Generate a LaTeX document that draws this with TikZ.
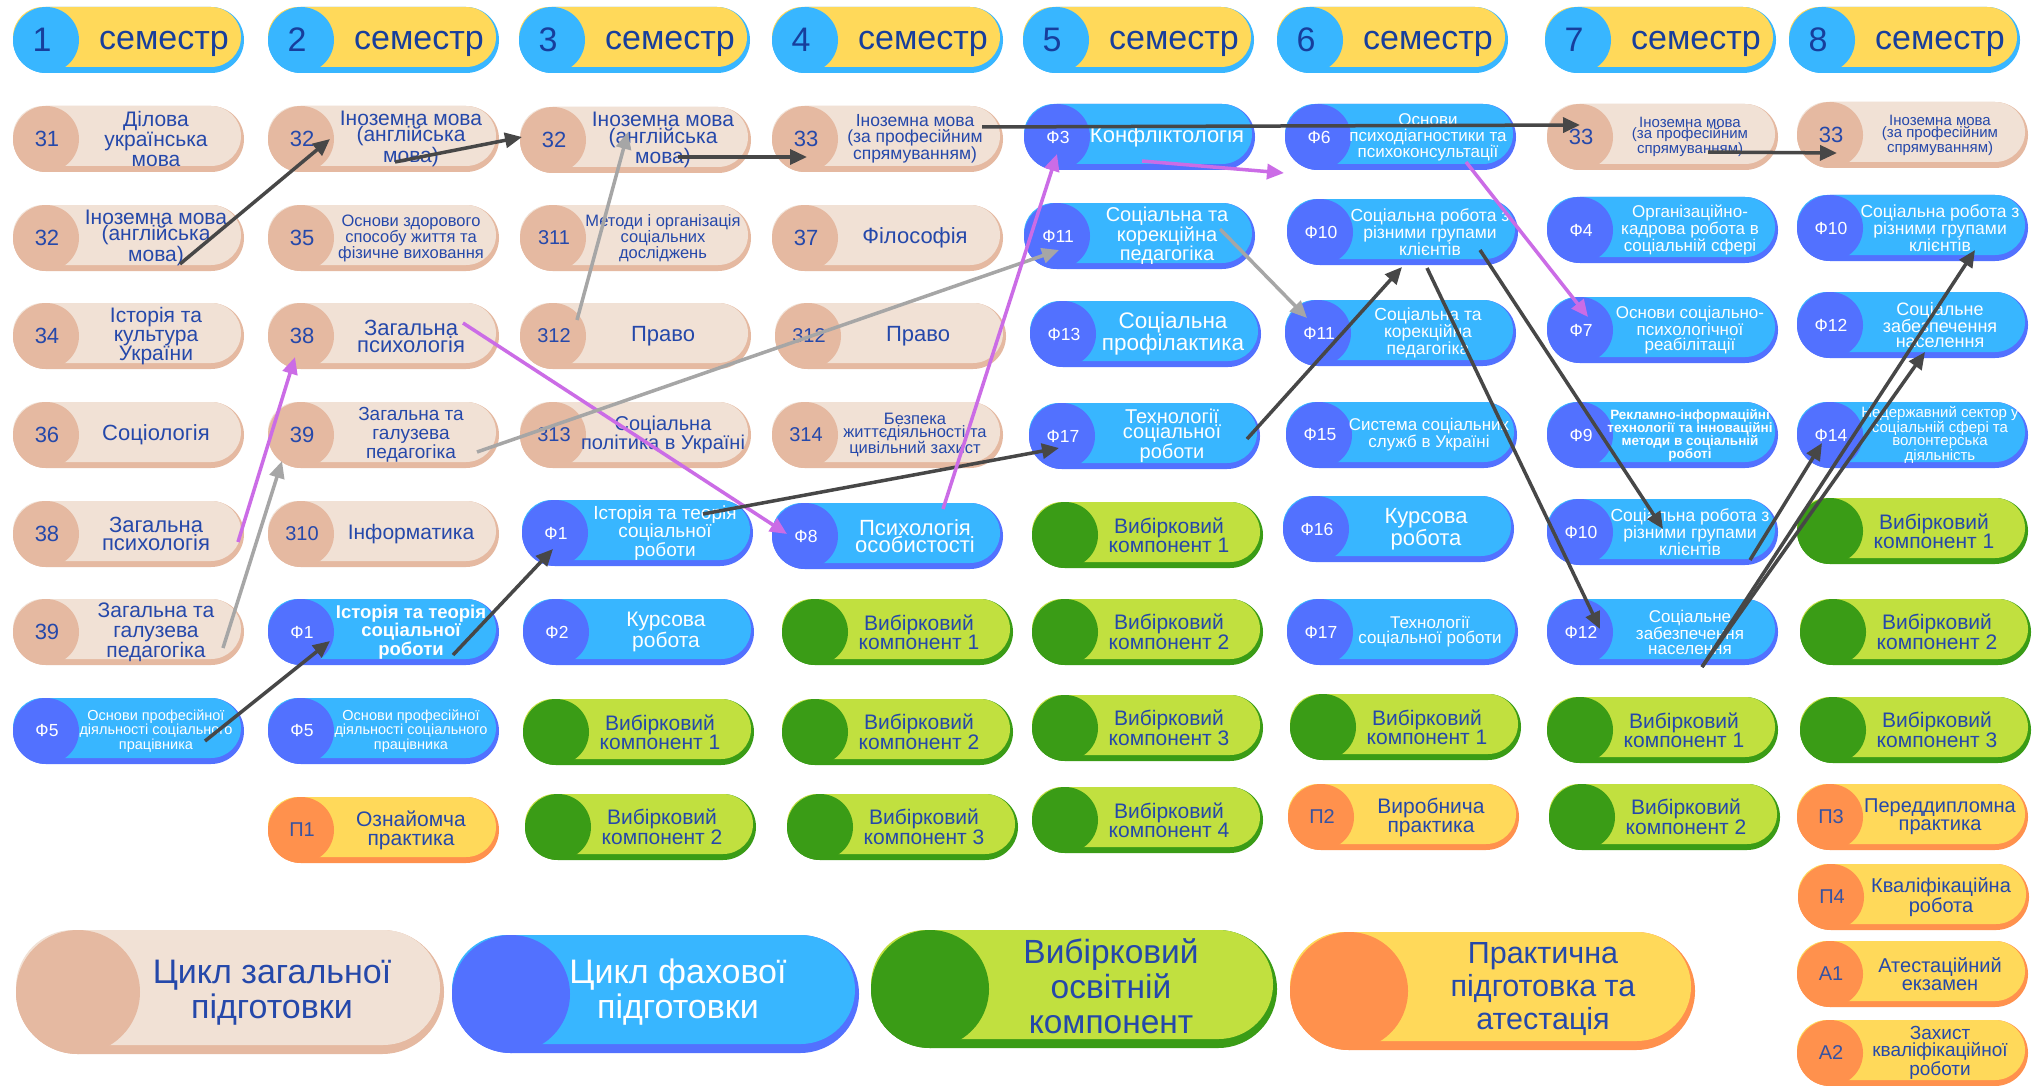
\documentclass[tikz,border=0pt]{standalone}
\usepackage{fontspec}
\setmainfont{Liberation Sans}
\usetikzlibrary{arrows.meta}

\definecolor{genL}{HTML}{F1E1D5}
\definecolor{genD}{HTML}{E5B9A1}
\definecolor{proL}{HTML}{38B6FF}
\definecolor{proD}{HTML}{5271FF}
\definecolor{selL}{HTML}{C1E03F}
\definecolor{selD}{HTML}{3A9C16}
\definecolor{praL}{HTML}{FFD95A}
\definecolor{praD}{HTML}{FF914D}
\definecolor{hdL}{HTML}{FFD95A}
\definecolor{hdD}{HTML}{38B6FF}
\definecolor{txtB}{HTML}{2548AA}
\definecolor{hdB}{HTML}{173E9C}
\definecolor{arrD}{HTML}{474747}
\definecolor{arrG}{HTML}{A6A6A6}
\definecolor{arrV}{HTML}{CB6CE6}

\tikzset{
 pillbox/.style={minimum width=231pt, minimum height=66pt, inner sep=0pt, outer sep=0pt},
 gentext/.style={text=txtB, align=center, inner sep=0pt},
 protext/.style={text=white, align=center, inner sep=0pt},
 seltext/.style={text=txtB, align=center, inner sep=0pt, xshift=-6pt},
 pratext/.style={text=txtB, align=center, inner sep=0pt},
 gencode/.style={text=txtB, font=\fontsize{22}{22}\selectfont},
 procode/.style={text=white, font=\fontsize{17.5}{18}\selectfont},
 selcode/.style={},
 pracode/.style={text=txtB!80!gray, font=\fontsize{20}{20}\selectfont},
 hdtext/.style={text=hdB, font=\fontsize{34}{34}\selectfont, inner sep=0pt},
 arr/.style={-{Triangle[length=17pt,width=15pt]}, line width=3.5pt},
 dk/.style={arr, draw=arrD},
 gy/.style={arr, draw=arrG},
 vi/.style={arr, draw=arrV},
}

% #1 name #2 type #3 x0 #4 yc #5 code #6 size #7 skip #8 text
\newcommand\pil[8]{%
 \fill[#2D, rounded corners=33pt] (#3,{#4-33}) rectangle ({#3+231},{#4+33});
 \fill[#2L, rounded corners=30pt] (#3,{#4-33}) rectangle ({#3+228},{#4+27});
 \fill[#2D] ({#3+33},#4) circle[radius=33pt];
 \node[pillbox] (#1) at ({#3+115.5},#4) {};
 \node[#2code] at ({#3+34},#4) {#5};
 \node[#2text, font=\fontsize{#6}{#7}\selectfont] at ({#3+143},#4) {#8};
}
% #1 name #2 x0 #3 number
\newcommand\sem[3]{%
 \fill[hdD, rounded corners=33pt] (#2,7) rectangle ({#2+231},73);
 \fill[hdL, rounded corners=30pt] (#2,7) rectangle ({#2+228},67);
 \fill[hdD] ({#2+33},40) circle[radius=33pt];
 \node[pillbox] (#1) at ({#2+115.5},40) {};
 \node[hdtext, anchor=base] at ({#2+29},52) {#3};
 \node[hdtext, anchor=base] at ({#2+151},50) {семестр};
}
\newcommand\tc[1]{{\fontsize{20}{20}\selectfont #1}}

\begin{document}
\begin{tikzpicture}[x=1pt, y=-1pt]
\useasboundingbox (0,0) rectangle (2033,1086);
\fill[white] (0,0) rectangle (2033,1086);

% headers
\sem{h1}{13}{1}
\sem{h2}{268}{2}
\sem{h3}{519}{3}
\sem{h4}{772}{4}
\sem{h5}{1023}{5}
\sem{h6}{1277}{6}
\sem{h7}{1545}{7}
\sem{h8}{1789}{8}

% column 1
\pil{p1-1}{gen}{13}{139}{31}{21}{20}{Ділова\\українська\\мова}
\pil{p1-2}{gen}{13}{238}{32}{21}{16}{Іноземна мова\\(англійська\\мова)}
\pil{p1-3}{gen}{13}{336}{34}{21}{19}{Історія та\\культура\\України}
\pil{p1-4}{gen}{13}{435}{36}{22}{22}{Соціологія}
\pil{p1-5}{gen}{13}{534}{38}{22}{18}{Загальна\\психологія}
\pil{p1-6}{gen}{13}{632}{39}{21}{20}{Загальна та\\галузева\\педагогіка}
\pil{p1-7}{pro}{13}{731}{Ф5}{14.5}{13}{Основи професійної\\діяльності соціального\\працівника}

% column 2
\pil{p2-1}{gen}{268}{139}{32}{21}{16}{Іноземна мова\\(англійська\\мова)}
\pil{p2-2}{gen}{268}{238}{35}{16.5}{16}{Основи здорового\\способу життя та\\фізичне виховання}
\pil{p2-3}{gen}{268}{336}{38}{22}{17}{Загальна\\психологія}
\pil{p2-4}{gen}{268}{435}{39}{19}{19}{Загальна та\\галузева\\педагогіка}
\pil{p2-5}{gen}{268}{534}{\tc{310}}{21}{21}{Інформатика}
\pil{p2-6}{pro}{268}{632}{Ф1}{18.5}{16}{\bfseries Історія та теорія\\\bfseries соціальної\\\bfseries роботи}
\pil{p2-7}{pro}{268}{731}{Ф5}{14.5}{13}{Основи професійної\\діяльності соціального\\працівника}
\pil{p2-8}{pra}{268}{830}{П1}{21}{19}{Ознайомча\\практика}

% column 3
\pil{p3-1}{gen}{520}{140}{32}{21}{15}{Іноземна мова\\(англійська\\мова)}
\pil{p3-2}{gen}{520}{238}{\tc{311}}{16.5}{16}{Методи і організація\\соціальних\\досліджень}
\pil{p3-3}{gen}{520}{336}{\tc{312}}{22}{22}{Право}
\pil{p3-4}{gen}{520}{435}{\tc{313}}{20}{16}{Соціальна\\політика в Україні}
\pil{p3-5}{pro}{522}{533}{Ф1}{19}{15}{Історія та теорія\\соціальної\\роботи}
\pil{p3-6}{pro}{523}{632}{Ф2}{21}{18}{Курсова\\робота}
\pil{p3-7}{sel}{523}{732}{}{21}{19}{Вибірковий\\компонент 1}
\pil{p3-8}{sel}{525}{827}{}{21}{19}{Вибірковий\\компонент 2}

% column 4
\pil{p4-1}{gen}{772}{139}{33}{17.5}{16}{Іноземна мова\\(за професійним\\спрямуванням)}
\pil{p4-2}{gen}{772}{238}{37}{22}{22}{Філософія}
\pil{p4-3}{gen}{775}{336}{\tc{312}}{22}{22}{Право}
\pil{p4-4}{gen}{772}{435}{\tc{314}}{16.5}{13}{Безпека\\життєдіяльності та\\цивільний захист}
\pil{p4-5}{pro}{772}{536}{Ф8}{22}{17}{Психологія\\особистості}
\pil{p4-6}{sel}{782}{632}{}{21}{19}{Вибірковий\\компонент 1}
\pil{p4-7}{sel}{782}{732}{}{21}{19}{Вибірковий\\компонент 2}
\pil{p4-8}{sel}{787}{827}{}{21}{19}{Вибірковий\\компонент 3}

% column 5
\pil{p5-1}{pro}{1024}{137}{Ф3}{22}{22}{Конфліктологія}
\pil{p5-2}{pro}{1024}{236}{Ф11}{20}{15}{Соціальна та\\корекційна\\педагогіка}
\pil{p5-3}{pro}{1030}{334}{Ф13}{22.5}{18}{Соціальна\\профілактика}
\pil{p5-4}{pro}{1029}{436}{Ф17}{20}{15}{Технології\\соціальної\\роботи}
\pil{p5-5}{sel}{1032}{535}{}{21}{19}{Вибірковий\\компонент 1}
\pil{p5-6}{sel}{1032}{632}{}{21}{19}{Вибірковий\\компонент 2}
\pil{p5-7}{sel}{1032}{728}{}{21}{19}{Вибірковий\\компонент 3}
\pil{p5-8}{sel}{1032}{820}{}{21}{19}{Вибірковий\\компонент 4}

% column 6
\pil{p6-1}{pro}{1285}{137}{Ф6}{17}{16}{Основи\\психодіагностики та\\психоконсультації}
\pil{p6-2}{pro}{1287}{232}{Ф10}{17.5}{15}{Соціальна робота з\\різними групами\\клієнтів}
\pil{p6-3}{pro}{1285}{333}{Ф11}{17.5}{15}{Соціальна та\\корекційна\\педагогіка}
\pil{p6-4}{pro}{1286}{435}{Ф15}{17}{14.5}{Система соціальних\\служб в Україні}
\pil{p6-5}{pro}{1283}{529}{Ф16}{22}{20}{Курсова\\робота}
\pil{p6-6}{pro}{1287}{632}{Ф17}{17}{15}{Технології\\соціальної роботи}
\pil{p6-7}{sel}{1290}{727}{}{21}{19}{Вибірковий\\компонент 1}
\pil{p6-8}{pra}{1288}{817}{П2}{21}{19}{Виробнича\\практика}

% column 7
\pil{p7-1}{gen}{1547}{137}{33}{15}{11.5}{Іноземна мова\\(за професійним\\спрямуванням)}
\pil{p7-2}{pro}{1547}{230}{Ф4}{17}{15}{Організаційно-\\кадрова робота в\\соціальній сфері}
\pil{p7-3}{pro}{1547}{330}{Ф7}{17}{15}{Основи соціально-\\психологічної\\реабілітації}
\pil{p7-4}{pro}{1547}{435}{Ф9}{13.5}{13}{\bfseries Рекламно-інформаційні\\\bfseries технології та інноваційні\\\bfseries методи в соціальній\\\bfseries роботі}
\pil{p7-5}{pro}{1547}{532}{Ф10}{17.5}{15}{Соціальна робота з\\різними групами\\клієнтів}
\pil{p7-6}{pro}{1547}{632}{Ф12}{17}{15}{Соціальне\\забезпечення\\населення}
\pil{p7-7}{sel}{1547}{730}{}{21}{19}{Вибірковий\\компонент 1}
\pil{p7-8}{sel}{1549}{817}{}{21}{19}{Вибірковий\\компонент 2}

% column 8
\pil{p8-1}{gen}{1797}{135}{33}{15}{12}{Іноземна мова\\(за професійним\\спрямуванням)}
\pil{p8-2}{pro}{1797}{228}{Ф10}{17.5}{15}{Соціальна робота з\\різними групами\\клієнтів}
\pil{p8-3}{pro}{1797}{325}{Ф12}{18}{15}{Соціальне\\забезпечення\\населення}
\pil{p8-4}{pro}{1797}{435}{Ф14}{15}{12.8}{Недержавний сектор у\\соціальній сфері та\\волонтерська\\діяльність}
\pil{p8-5}{sel}{1797}{531}{}{21}{19}{Вибірковий\\компонент 1}
\pil{p8-6}{sel}{1800}{632}{}{21}{19}{Вибірковий\\компонент 2}
\pil{p8-7}{sel}{1800}{730}{}{21}{19}{Вибірковий\\компонент 3}
\pil{p8-8}{pra}{1797}{817}{П3}{20}{18}{Переддипломна\\практика}
\pil{p8-9}{pra}{1798}{897}{П4}{20}{18}{Кваліфікаційна\\робота}
\pil{p8-10}{pra}{1797}{974}{А1}{20}{18}{Атестаційний\\екзамен}
\pil{p8-11}{pra}{1797}{1053}{А2}{19}{17}{Захист\\кваліфікаційної\\роботи}

% legend
\fill[genD, rounded corners=62pt] (16,930) rectangle (444,1054);
\fill[genL, rounded corners=57pt] (16,930) rectangle (440,1045);
\fill[genD] (78,992) circle[radius=62pt];
\node[gentext, font=\fontsize{34}{35}\selectfont] (leg1) at (272,993) {Цикл загальної\\підготовки};

\fill[proD, rounded corners=59pt] (452,935) rectangle (859,1053);
\fill[proL, rounded corners=54.5pt] (452,935) rectangle (855,1044);
\fill[proD] (511,994) circle[radius=59pt];
\node[protext, font=\fontsize{34}{35}\selectfont] (leg2) at (678,992) {Цикл фахової\\підготовки};

\fill[selD, rounded corners=59pt] (871,930) rectangle (1277,1048);
\fill[selL, rounded corners=54.5pt] (871,930) rectangle (1273,1039);
\fill[selD] (930,989) circle[radius=59pt];
\node[text=txtB, align=center, inner sep=0pt, font=\fontsize{33.5}{35}\selectfont] (leg3) at (1111,986) {Вибірковий\\освітній\\компонент};

\fill[praD, rounded corners=59pt] (1290,932) rectangle (1695,1050);
\fill[praL, rounded corners=54.5pt] (1290,932) rectangle (1691,1041);
\fill[praD] (1349,991) circle[radius=59pt];
\node[pratext, font=\fontsize{30.5}{33}\selectfont] (leg4) at (1543,989) {Практична\\підготовка та\\атестація};

% connectors
\draw[dk] ([shift={(167,26)}]p1-2.west) -- ([shift={(62,0)}]p2-1.west);
\draw[dk] ([shift={(127,23)}]p2-1.west) -- ([shift={(2,-3)}]p3-1.west);
\draw[dk] ([shift={(158,17)}]p3-1.west) -- ([shift={(35,18)}]p4-1.west);
\draw[dk] ([shift={(210,-12)}]p4-1.west) -- ([shift={(33,-12)}]p7-1.west);
\draw[dk] ([shift={(161,15)}]p7-1.west) -- ([shift={(40,18)}]p8-1.west);
\draw[gy] ([shift={(57,-16)}]p3-3.west) -- ([shift={(108,-8)}]p3-1.west);
\draw[gy] ([shift={(210,16)}]p1-6.west) -- ([shift={(14,26)}]p2-4.west);
\draw[vi] ([shift={(225,8)}]p1-5.west) -- ([shift={(27,21)}]p2-3.west);
\draw[vi] ([shift={(195,-13)}]p2-3.west) -- ([shift={(15,-2)}]p4-5.west);
\draw[gy] ([shift={(209,17)}]p2-4.west) -- ([shift={(35,14)}]p5-2.west);
\draw[dk] ([shift={(192,10)}]p1-7.west) -- ([shift={(62,9)}]p2-6.west);
\draw[dk] ([shift={(185,23)}]p2-6.west) -- ([shift={(31,16)}]p3-5.west);
\draw[dk] ([shift={(181,-19)}]p3-5.west) -- ([shift={(30,12)}]p5-4.west);
\draw[vi] ([shift={(171,-27)}]p4-5.west) -- ([shift={(33,17)}]p5-1.west);
\draw[vi] ([shift={(118,24)}]p5-1.west) -- ([shift={(-1,36)}]p6-1.west);
\draw[gy] ([shift={(196,-7)}]p5-2.west) -- ([shift={(22,-15)}]p6-3.west);
\draw[dk] ([shift={(218,3)}]p5-4.west) -- ([shift={(115,35)}]p6-2.west);
\draw[vi] ([shift={(181,25)}]p6-1.west) -- ([shift={(41,-13)}]p7-3.west);
\draw[dk] ([shift={(193,18)}]p6-2.west) -- ([shift={(116,-3)}]p7-5.west);
\draw[dk] ([shift={(140,36)}]p6-2.west) -- ([shift={(53,-3)}]p7-6.west);
\draw[dk] ([shift={(155,35)}]p7-6.west) -- ([shift={(178,22)}]p8-2.west);
\draw[dk] ([shift={(155,35)}]p7-6.west) -- ([shift={(128,27)}]p8-3.west);
\draw[dk] ([shift={(203,28)}]p7-5.west) -- ([shift={(25,8)}]p8-4.west);
\end{tikzpicture}
\end{document}
